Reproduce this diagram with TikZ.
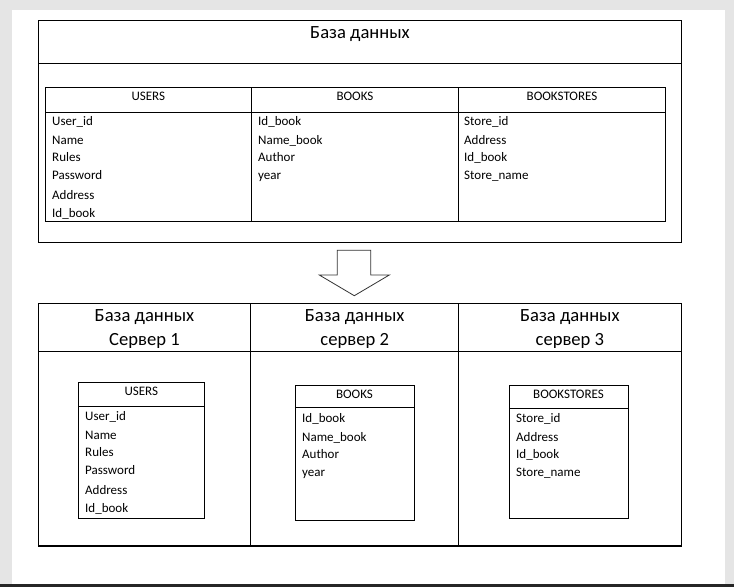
\documentclass[tikz,border=0pt]{standalone}
\usepackage{fontspec}
\setmainfont{Carlito}
\begin{document}
\begin{tikzpicture}[x=1pt,y=-1pt,
  every node/.style={inner sep=0pt,font=\fontsize{13}{15}\selectfont},
  title/.style={anchor=base,font=\fontsize{18.6}{22}\selectfont},
  field/.style={anchor=base west},
  head/.style={anchor=base},
  frame/.style={draw,line width=1.3pt},
  tbl/.style={draw,line width=1pt}]
    \useasboundingbox (0,0) rectangle (734,587);
    % page
    \fill[gray!20] (0,0) rectangle (734,587);
    \fill[white] (12,10) rectangle (725,584);
    \fill[black!85] (0,584) rectangle (734,587);
    % source database
    \draw[frame] (38.3,20.3) rectangle (681.3,242.3);
    \draw[frame] (38.3,63.3) -- (681.3,63.3);
    \node[title] (db) at (360,38.7) {База данных};
    \draw[tbl] (45.3,87.3) rectangle (665.3,221.3);
    \draw[tbl] (45.3,112) -- (665.3,112);
    \draw[tbl] (251.3,87.3) -- (251.3,221.3);
    \draw[tbl] (458.7,87.3) -- (458.7,221.3);
    \node[head] (users) at (148.3,100) {USERS};
    \node[head] (books) at (355,100) {BOOKS};
    \node[head] (stores) at (562,100) {BOOKSTORES};
    \foreach \t/\dy [count=\i] in {User\_id/37.7,Name/56.7,Rules/73.7,Password/91.7,Address/111.7,Id\_book/130.4}
      \node[field] (users\i) at (52,87.3+\dy) {\t};
    \foreach \t/\dy [count=\i] in {Id\_book/37.7,Name\_book/56.7,Author/73.7,year/91.7}
      \node[field] (books\i) at (258,87.3+\dy) {\t};
    \foreach \t/\dy [count=\i] in {Store\_id/37.7,Address/56.7,Id\_book/73.7,Store\_name/91.7}
      \node[field] (stores\i) at (464,87.3+\dy) {\t};
    % split arrow
    \draw[line width=0.8pt,black!80] (337.3,250.3) -- (370.7,250.3) -- (370.7,275) -- (389.3,275)
      -- (354.3,295.7) -- (319.3,275) -- (337.3,275) -- cycle;
    % servers
    \draw[frame] (38.3,303.3) rectangle (681.3,546);
    \draw[frame] (38.3,351.3) -- (681.3,351.3);
    \draw[frame] (250.7,303.3) -- (250.7,546);
    \draw[frame] (458.7,303.3) -- (458.7,546);
    \node[title] (db1) at (144.5,321.7) {База данных};
    \node[title] (srv1) at (144.5,345) {Сервер 1};
    \node[title] (db2) at (354.7,321.7) {База данных};
    \node[title] (srv2) at (354.7,345) {сервер 2};
    \node[title] (db3) at (569.9,321.7) {База данных};
    \node[title] (srv3) at (569.9,345) {сервер 3};
    % server 1
    \draw[tbl] (78.3,382.3) rectangle (204.3,518);
    \draw[tbl] (78.3,406) -- (204.3,406);
    \node[head] (usersA) at (141.3,395) {USERS};
    \foreach \t/\dy [count=\i] in {User\_id/37.7,Name/56.7,Rules/73.7,Password/91.7,Address/111.7,Id\_book/130.4}
      \node[field] (usersA\i) at (85,382.3+\dy) {\t};
    % server 2
    \draw[tbl] (295,385) rectangle (414,520);
    \draw[tbl] (295,407) -- (414,407);
    \node[head] (booksA) at (354.5,398.5) {BOOKS};
    \foreach \t/\dy [count=\i] in {Id\_book/37.7,Name\_book/56.7,Author/73.7,year/91.7}
      \node[field] (booksA\i) at (302,385+\dy) {\t};
    % server 3
    \draw[tbl] (509,385) rectangle (628,518);
    \draw[tbl] (509,408) -- (628,408);
    \node[head] (storesA) at (568.5,398) {BOOKSTORES};
    \foreach \t/\dy [count=\i] in {Store\_id/37.7,Address/56.7,Id\_book/73.7,Store\_name/91.7}
      \node[field] (storesA\i) at (516,385+\dy) {\t};
\end{tikzpicture}
\end{document}
